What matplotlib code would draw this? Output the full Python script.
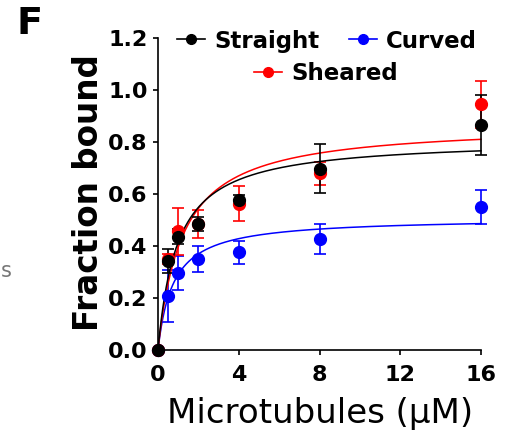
import numpy as np
import matplotlib
matplotlib.use('Agg')
import matplotlib.pyplot as plt
from matplotlib.lines import Line2D

# Microtubule concentrations (uM)
conc = [0, 0.5, 1, 2, 4, 8, 16]

# Fraction bound, mean and error for each tubulin state
straight = [0.0, 0.343, 0.436, 0.484, 0.578, 0.697, 0.866]
straight_err = [0.0, 0.045, 0.03, 0.026, 0.02, 0.094, 0.115]
sheared = [0.0, 0.35, 0.457, 0.485, 0.563, 0.68, 0.945]
sheared_err = [0.0, 0.02, 0.09, 0.055, 0.068, 0.044, 0.09]
curved = [0.0, 0.206, 0.296, 0.349, 0.375, 0.427, 0.55]
curved_err = [0.0, 0.1, 0.065, 0.05, 0.045, 0.058, 0.066]

# Hyperbolic fit parameters (Bmax, Kd)
fit_bmax = {'Straight': 0.812, 'Sheared': 0.871, 'Curved': 0.509}
fit_kd = {'Straight': 0.96, 'Sheared': 1.2, 'Curved': 0.754}

colors = {'Straight': 'black', 'Sheared': '#ff0000', 'Curved': '#0000ff'}

fig = plt.figure(figsize=(5.07, 4.44), dpi=100)
ax = fig.add_axes([158 / 507, 1 - 350 / 444, 323 / 507, 312 / 444])

xfit = np.linspace(0, 16, 400)
series = [('Curved', curved, curved_err),
          ('Sheared', sheared, sheared_err),
          ('Straight', straight, straight_err)]
for name, vals, err in series:
    c = colors[name]
    yfit = fit_bmax[name] * xfit / (fit_kd[name] + xfit)
    ax.plot(xfit, yfit, color=c, lw=1.1, clip_on=False)
    ax.errorbar(conc, vals, yerr=err, fmt='o', color=c, ms=8.5,
                elinewidth=1.2, capsize=4, capthick=1.2, clip_on=False)

ax.set_xlim(0, 16)
ax.set_ylim(0, 1.2)
ax.set_xticks([0, 4, 8, 12, 16])
ax.set_yticks([0.0, 0.2, 0.4, 0.6, 0.8, 1.0, 1.2])
ax.set_yticklabels(['0.0', '0.2', '0.4', '0.6', '0.8', '1.0', '1.2'])
for s in ['top', 'right']:
    ax.spines[s].set_visible(False)
for s in ['left', 'bottom']:
    ax.spines[s].set_linewidth(1.2)
ax.tick_params(axis='both', direction='out', length=3.5, width=1.2,
               labelsize=16)
ax.tick_params(axis='y', pad=4)
ax.tick_params(axis='x', pad=7)
for lab in ax.get_xticklabels() + ax.get_yticklabels():
    lab.set_fontweight('bold')

fig.text(88 / 507, 1 - 193 / 444, 'Fraction bound', rotation=90,
         fontsize=23.5, fontweight='bold', ha='center', va='center')
fig.text(320 / 507, 1 - 413 / 444, 'Microtubules (\u03bcM)',
         fontsize=24.5, ha='center', va='center')
fig.text(30 / 507, 1 - 24 / 444, 'F', fontsize=27.5, fontweight='bold',
         ha='center', va='center')
# fragment of the neighbouring panel
fig.text(1 / 507, 1 - 271 / 444, 's', fontsize=15, color='#777777',
         ha='left', va='center')

def handle(name):
    return Line2D([], [], color=colors[name], marker='o', ms=7, lw=1.2)

leg1 = ax.legend([handle('Straight'), handle('Curved')], ['Straight', 'Curved'],
                 ncol=2, frameon=False, loc='center',
                 bbox_to_anchor=(327 / 507, 1 - 41 / 444),
                 bbox_transform=fig.transFigure,
                 prop={'size': 16.5, 'weight': 'bold'},
                 handlelength=1.2, handletextpad=0.4, columnspacing=1.3,
                 borderpad=0, borderaxespad=0)
ax.add_artist(leg1)
ax.legend([handle('Sheared')], ['Sheared'], frameon=False, loc='center',
          bbox_to_anchor=(326 / 507, 1 - 74 / 444),
          bbox_transform=fig.transFigure,
          prop={'size': 16.5, 'weight': 'bold'},
          handlelength=1.2, handletextpad=0.4,
          borderpad=0, borderaxespad=0)

fig.savefig('out.png', dpi=100)
